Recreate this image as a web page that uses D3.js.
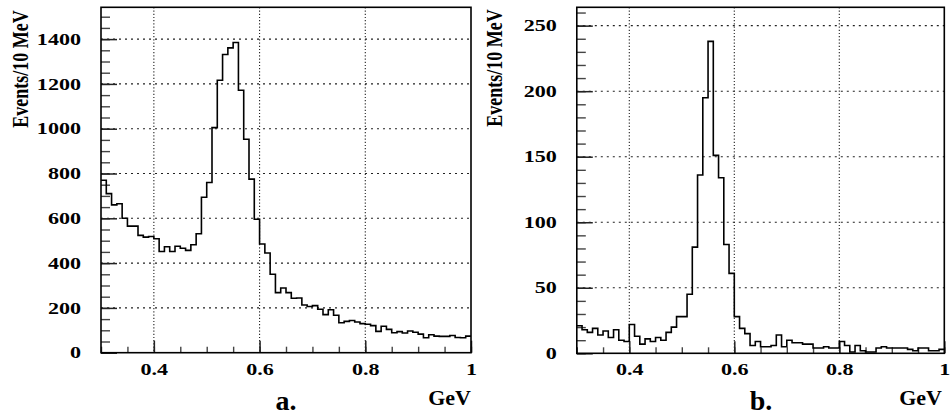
<!DOCTYPE html>
<html>
<head>
<meta charset="utf-8">
<script src="https://cdn.jsdelivr.net/npm/d3@7"></script>
<style>
  body { margin: 0; background: #fff; }
  svg { display: block; }
</style>
</head>
<body>
<svg id="chart" width="951" height="418"></svg>
<script>
// histogram bins: 10 MeV wide from 0.3 to 1.0 GeV
var binStart = 0.3
var binWidth = 0.01

// panel a. events per bin
var countsA = [770, 710, 660, 665, 600, 565, 565, 524, 516, 519,
               509, 452, 473, 452, 475, 466, 457, 482, 531, 694,
               760, 1005, 1216, 1331, 1361, 1385, 1172, 953, 775, 596,
               485, 445, 350, 268, 289, 268, 243, 244, 213, 206,
               210, 194, 170, 192, 167, 134, 140, 144, 137, 130,
               127, 121, 95, 118, 104, 89, 94, 88, 97, 91,
               83, 67, 80, 74, 73, 73, 77, 68, 67, 74]

// panel b. events per bin
var countsB = [21, 18, 16, 19, 14, 17, 12, 18, 10, 9,
               22, 13, 7, 11, 9, 12, 10, 16, 20, 28,
               28, 45, 81, 136, 195, 238, 151, 134, 83, 61,
               28, 19, 15, 6, 9, 5, 5, 6, 14, 5,
               10, 8, 8, 7, 7, 4, 4, 5, 4, 4,
               9, 6, 1, 6, 2, 1, 1, 4, 5, 4,
               4, 4, 4, 3, 2, 4, 4, 2, 2, 3]

var xTicksMajor = [0.4, 0.6, 0.8, 1.0]
var xTicksMinor = d3.range(0.3, 1.0001, 0.05)
var xGrid = [0.4, 0.6, 0.8]

var yTicksA = [0, 200, 400, 600, 800, 1000, 1200, 1400]
var yMinorA = d3.range(0, 1541, 50)
var yTopA = 1542

var yTicksB = [0, 50, 100, 150, 200, 250]
var yMinorB = d3.range(0, 261, 10)
var yTopB = 264

var yLabel = "Events/10 MeV"
var xUnit = "GeV"

var serif = "'Liberation Serif', 'Times New Roman', Times, serif"
var svg = d3.select("#chart")
var stretch = 1.3   // the original glyphs are wider than they are tall

function styleText(sel, size) {
    sel.attr("font-family", serif)
       .attr("font-weight", "bold")
       .attr("font-size", size)
       .attr("fill", "#000")
       .style("font-family", serif)
       .style("font-weight", "bold")
}

function drawPanel(counts, box, yTop, yTicks, yMinor, tag) {
    var x = d3.scaleLinear().domain([0.3, 1.0]).range([box.left, box.right])
    var y = d3.scaleLinear().domain([0, yTop]).range([box.bottom, box.top])
    var g = svg.append("g")

    // dotted grid
    g.selectAll(".hgrid").data(yTicks.filter(d => d > 0)).enter()
        .append("line")
        .attr("x1", box.left).attr("x2", box.right)
        .attr("y1", d => y(d)).attr("y2", d => y(d))
        .attr("stroke", "#222").attr("stroke-width", 1.1)
        .attr("stroke-dasharray", "2,4")
    g.selectAll(".vgrid").data(xGrid).enter()
        .append("line")
        .attr("x1", d => x(d)).attr("x2", d => x(d))
        .attr("y1", box.top).attr("y2", box.bottom)
        .attr("stroke", "#222").attr("stroke-width", 1.1)
        .attr("stroke-dasharray", "1.2,2")

    // y ticks (inside the frame)
    g.append("g").attr("transform", "translate(" + box.left + ",0)")
        .call(d3.axisLeft(y).tickValues(yMinor).tickSize(-9).tickFormat(""))
        .call(a => a.select(".domain").remove())
        .call(a => a.selectAll("line").attr("stroke", "#444").attr("stroke-width", 1.4))
    var yAx = g.append("g").attr("transform", "translate(" + box.left + ",0)")
        .call(d3.axisLeft(y).tickValues(yTicks).tickSize(-16).tickPadding(20).tickFormat(d3.format("d")))
    yAx.attr("font-family", serif)
    yAx.select(".domain").remove()
    yAx.selectAll("line").attr("stroke", "#222").attr("stroke-width", 1.5)
    yAx.selectAll("text")
        .call(styleText, 17)
        .attr("x", -20 / stretch)
        .attr("dy", "0.3em")
        .attr("transform", "scale(" + stretch + ",1)")

    // x ticks (inside the frame)
    g.append("g").attr("transform", "translate(0," + box.bottom + ")")
        .call(d3.axisBottom(x).tickValues(xTicksMinor).tickSize(-6).tickFormat(""))
        .call(a => a.select(".domain").remove())
        .call(a => a.selectAll("line").attr("stroke", "#444").attr("stroke-width", 1.4))
    var xAx = g.append("g").attr("transform", "translate(0," + box.bottom + ")")
        .call(d3.axisBottom(x).tickValues(xTicksMajor).tickSize(-12).tickPadding(22)
              .tickFormat(d => d === 1 ? "1" : d3.format(".1f")(d)))
    xAx.attr("font-family", serif)
    xAx.select(".domain").remove()
    xAx.selectAll("line").attr("stroke", "#222").attr("stroke-width", 1.5)
    xAx.selectAll("text")
        .call(styleText, 17)
        .attr("dy", null).attr("y", 22)
        .attr("x", 0)
        .attr("transform", "scale(" + stretch + ",1)")

    // histogram outline
    var pts = counts.map((c, i) => ({ lo: binStart + i * binWidth, c: c }))
    pts.push({ lo: binStart + counts.length * binWidth, c: counts[counts.length - 1] })
    var line = d3.line().curve(d3.curveStepAfter)
        .x(d => x(d.lo)).y(d => y(d.c))
    g.append("path").datum(pts)
        .attr("d", line)
        .attr("fill", "none").attr("stroke", "#000").attr("stroke-width", 1.6)

    // frame
    g.append("rect")
        .attr("x", box.left).attr("y", box.top)
        .attr("width", box.right - box.left).attr("height", box.bottom - box.top)
        .attr("fill", "none").attr("stroke", "#000").attr("stroke-width", 1.6)

    // labels
    g.append("text")
        .attr("transform", "translate(" + box.ylabX + "," + box.ylabY + ") scale(" + stretch + ",1) rotate(-90)")
        .attr("text-anchor", "middle")
        .call(styleText, 18)
        .text(yLabel)
    g.append("text")
        .attr("transform", "translate(" + box.unitX + ",405) scale(1.1,1)")
        .attr("text-anchor", "end")
        .call(styleText, 20)
        .text(xUnit)
    g.append("text")
        .attr("x", box.tagX).attr("y", 410)
        .attr("text-anchor", "middle")
        .call(styleText, 28)
        .text(tag)
}

drawPanel(countsA, { left: 101, right: 471, top: 7.3, bottom: 352.7, ylabX: 28, ylabY: 69, unitX: 471, tagX: 286 },
          yTopA, yTicksA, yMinorA, "a.")
drawPanel(countsB, { left: 576.8, right: 944.3, top: 7.3, bottom: 353.3, ylabX: 502, ylabY: 68, unitX: 942, tagX: 761 },
          yTopB, yTicksB, yMinorB, "b.")
</script>
</body>
</html>
